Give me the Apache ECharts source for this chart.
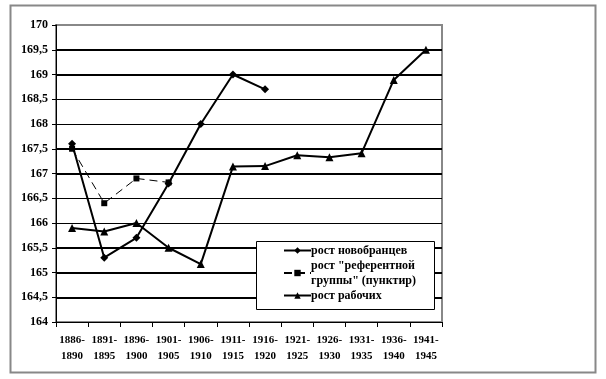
<!DOCTYPE html>
<html><head><meta charset="utf-8">
<script src="https://cdn.jsdelivr.net/npm/echarts@6/dist/echarts.min.js"></script>
<style>html,body{margin:0;padding:0;background:#fff}#c{width:606px;height:379px}</style>
</head><body><div id="c"></div>
<script>
const categories = ['1886-\n1890','1891-\n1895','1896-\n1900','1901-\n1905','1906-\n1910','1911-\n1915','1916-\n1920','1921-\n1925','1926-\n1930','1931-\n1935','1936-\n1940','1941-\n1945'];
const recruits = [167.6,165.3,165.7,166.8,168.0,169.0,168.7,null,null,null,null,null];
const reference = [167.5,166.4,166.9,166.82,null,null,null,null,null,null,null,null];
const workers = [165.9,165.83,166.0,165.5,165.17,167.14,167.15,167.37,167.33,167.41,168.89,169.5];
const thickGrid = [169.5,169,167.5,167,165.5,165,164.5];
const thinGrid = [168.5,168,166.5,166];
const names = ['рост новобранцев','рост "референтной группы" (пунктир)','рост рабочих'];
const yMin = 164, yMax = 170, yStep = 0.5;

const font = 'Liberation Serif';
const chart = echarts.init(document.getElementById('c'), null, {renderer:'canvas'});
const gridMarks = thickGrid.map(v => ({yAxis: v, lineStyle:{width:2}}))
  .concat(thinGrid.map(v => ({yAxis: v, lineStyle:{width:1}})));
chart.setOption({
  animation:false,
  backgroundColor:'#fff',
  graphic:[
    {type:'rect', shape:{x:10.5,y:5.5,width:585,height:367}, style:{fill:null, stroke:'#888', lineWidth:2}, z:0},
    {type:'rect', shape:{x:256.5,y:241.5,width:178,height:68}, style:{fill:'#fff', stroke:'#000', lineWidth:1}, z:50}
  ],
  grid:{left:56, right:164, top:25, bottom:57, show:true, borderColor:'#888', borderWidth:2},
  legend:{
    data:[names[0], {name:names[1]}, names[2]],
    orient:'vertical', left:278, top:238, itemWidth:27, itemHeight:8, itemGap:0,
    z:60,
    formatter: n => n === names[1] ? 'рост "референтной\nгруппы" (пунктир)' : n,
    textStyle:{fontFamily:font, fontWeight:'bold', fontSize:12, color:'#000', lineHeight:15, padding:[0,0,0,-5]}
  },
  xAxis:{
    type:'category', data:categories, boundaryGap:true,
    axisLine:{lineStyle:{color:'#000', width:1}},
    axisTick:{show:true, length:5, lineStyle:{color:'#000'}},
    axisLabel:{fontFamily:font, fontWeight:'bold', fontSize:11, color:'#000', lineHeight:16, margin:10, interval:0}
  },
  yAxis:{
    type:'value', min:yMin, max:yMax, interval:yStep,
    axisLine:{show:true, lineStyle:{color:'#000', width:1}},
    axisTick:{show:true, length:4, lineStyle:{color:'#000'}},
    splitLine:{show:false},
    axisLabel:{fontFamily:font, fontWeight:'bold', fontSize:12, color:'#000', margin:8,
      formatter: v => String(v).replace('.', ',')}
  },
  series:[
    {type:'line', name:'grid', data:[], silent:true, z:1,
      markLine:{silent:true, symbol:'none', label:{show:false}, lineStyle:{color:'#000', type:'solid'}, data:gridMarks}},
    {type:'line', name:names[0], data:recruits, z:5, symbol:'diamond', symbolSize:8,
      lineStyle:{color:'#000', width:2}, itemStyle:{color:'#000'}},
    {type:'line', name:names[1], data:reference, z:4, symbol:'rect', symbolSize:6,
      lineStyle:{color:'#000', width:1, type:[8,5]}, itemStyle:{color:'#000'}},
    {type:'line', name:names[2], data:workers, z:5, symbol:'triangle', symbolSize:8,
      lineStyle:{color:'#000', width:2}, itemStyle:{color:'#000'}}
  ]
});
</script></body></html>
